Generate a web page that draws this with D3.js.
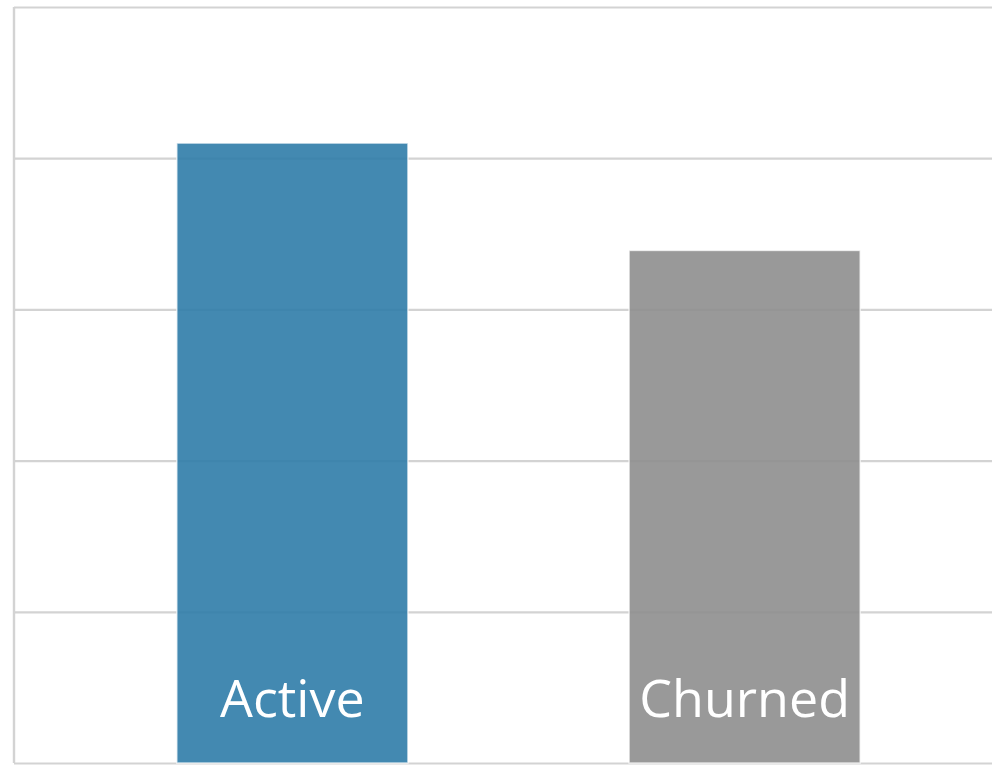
<!DOCTYPE html>
<html>
<head>
<meta charset="utf-8">
<script src="https://cdn.jsdelivr.net/npm/d3@7"></script>
<style>
  html, body { margin: 0; padding: 0; background: #fff; overflow: hidden; }
  svg { display: block; }
</style>
</head>
<body>
<div id="chart"></div>
<script>
// Customer status shares (percent)
const categories = ["Active", "Churned"];
const values = [41, 33.9];
const colors = ["#2f7ca9", "#8e8e8e"];
const yTicks = [0, 10, 20, 30, 40, 50];

const W = 992, H = 765;
const plot = { left: 14, top: 7, right: 1023, bottom: 763 };

const svg = d3.select("#chart").append("svg")
  .attr("width", W).attr("height", H);

const x = d3.scaleBand()
  .domain(categories)
  .range([plot.left, plot.right])
  .paddingInner(0.489)
  .paddingOuter(0.36);

const y = d3.scaleLinear()
  .domain([0, 50])
  .range([plot.bottom, plot.top]);

// horizontal gridlines
const yAxis = d3.axisLeft(y).tickValues(yTicks)
  .tickSize(-(plot.right - plot.left)).tickFormat("");
const gy = svg.append("g")
  .attr("transform", `translate(${plot.left},0)`)
  .call(yAxis);
gy.select(".domain").remove();
gy.selectAll(".tick line").attr("stroke", "#d3d3d3").attr("stroke-width", 2.2);

// left frame edge
svg.append("line")
  .attr("x1", plot.left).attr("x2", plot.left)
  .attr("y1", y(50)).attr("y2", y(0))
  .attr("stroke", "#d3d3d3").attr("stroke-width", 2.4);

// bars (slightly translucent so gridlines show through)
svg.selectAll("rect.bar")
  .data(categories)
  .join("rect")
  .attr("class", "bar")
  .attr("x", d => x(d))
  .attr("width", x.bandwidth())
  .attr("y", (d, i) => y(values[i]))
  .attr("height", (d, i) => y(0) - y(values[i]))
  .attr("fill", (d, i) => colors[i])
  .attr("fill-opacity", 0.9)
  .attr("stroke", "rgba(255,255,255,0.7)")
  .attr("stroke-width", 1.5);

// category labels inside the bars
svg.selectAll("text.lbl")
  .data(categories)
  .join("text")
  .attr("class", "lbl")
  .attr("x", d => x(d) + x.bandwidth() / 2)
  .attr("y", 717)
  .attr("text-anchor", "middle")
  .attr("fill", "#ffffff")
  .attr("font-family", "'Open Sans', sans-serif")
  .attr("font-size", 52)
  .text(d => d);
</script>
</body>
</html>
